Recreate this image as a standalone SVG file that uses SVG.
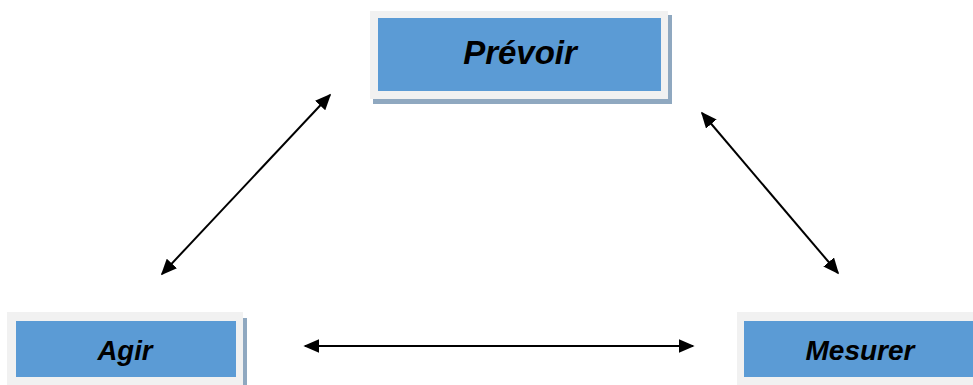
<svg xmlns="http://www.w3.org/2000/svg" width="973" height="385" viewBox="0 0 973 385">
<style>
.frame{fill:#F1F1F1}
.shadow{fill:#8FA8C0}
.box{fill:#5B9BD5}
.lbl{font-family:"Liberation Sans",Arial,sans-serif;font-weight:bold;font-style:italic;fill:#000;text-anchor:middle}
.conn{stroke:#000;stroke-width:2;fill:none;marker-start:url(#ah);marker-end:url(#ah)}
</style>
<defs>
<marker id="ah" viewBox="0 0 10 10" refX="9" refY="5" markerWidth="16" markerHeight="14" orient="auto-start-reverse" markerUnits="userSpaceOnUse" preserveAspectRatio="none">
<path d="M0,0 L10,5 L0,10 Z" fill="#000"/>
</marker>
</defs>
<rect width="973" height="385" fill="#fff"/>
<g id="prevoir">
<rect class="shadow" x="373" y="15" width="299" height="89"/>
<rect class="frame" x="370" y="11" width="298" height="88"/>
<rect class="box" x="378" y="18" width="283" height="73"/>
<text class="lbl" x="520" y="64" font-size="33">Prévoir</text>
</g>
<g id="agir">
<rect class="shadow" x="10" y="318" width="237" height="70"/>
<rect class="frame" x="7" y="312" width="236" height="76"/>
<rect class="box" x="16" y="321" width="220" height="56"/>
<text class="lbl" x="125" y="360" font-size="27.5">Agir</text>
</g>
<g id="mesurer">
<rect class="frame" x="737" y="312" width="240" height="76"/>
<rect class="box" x="744" y="321" width="233" height="56"/>
<text class="lbl" x="860" y="360" font-size="28">Mesurer</text>
</g>
<g id="connectors">
<line class="conn" x1="162" y1="274" x2="330" y2="95"/>
<line class="conn" x1="702" y1="113" x2="838" y2="273"/>
<line class="conn" x1="305" y1="346" x2="693" y2="346"/>
</g>
</svg>
